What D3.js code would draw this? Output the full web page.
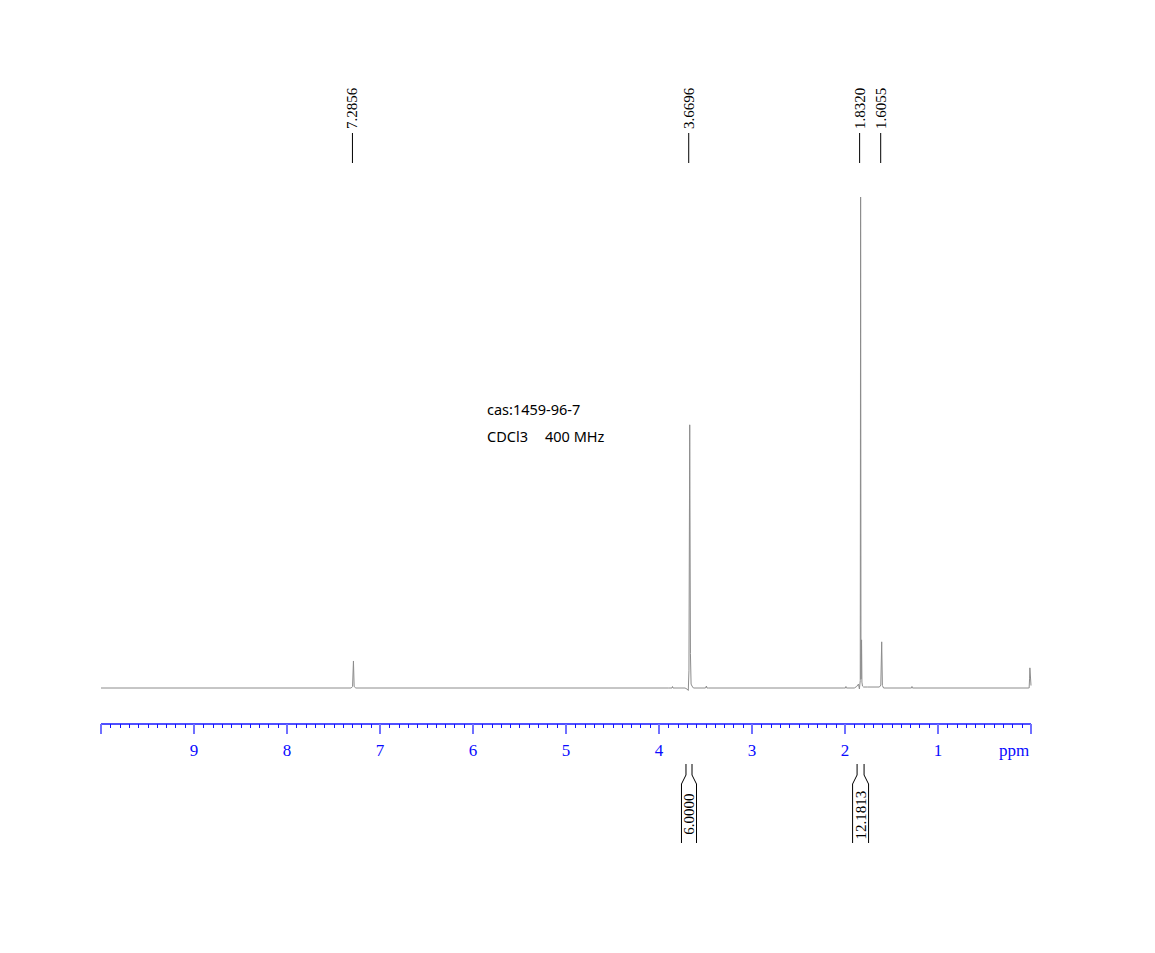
<!DOCTYPE html>
<html><head><meta charset="utf-8">
<script src="https://cdn.jsdelivr.net/npm/d3@7"></script>
<style>body{margin:0;background:#fff}svg{display:block}</style>
</head><body>
<svg id="c" width="1155" height="953"></svg>
<script>
// Peak labels (ppm)
const peakLabels = [7.2856, 3.6696, 1.8320, 1.6055];
// Integral regions [from ppm, to ppm, value]
const integralFrom = [3.71, 1.87];
const integralTo = [3.645, 1.795];
const integralValues = ["6.0000", "12.1813"];
// Axis ticks
const majorTicks = [9, 8, 7, 6, 5, 4, 3, 2, 1];
const axisDomain = [10, 0];
// Spectrum points: ppm, intensity (1.8320 peak = 100)
const specPpm = [10.0, 7.31, 7.295, 7.2856, 7.278, 7.26,
  3.90, 3.86, 3.855, 3.85, 3.72, 3.70, 3.685, 3.678, 3.6696, 3.662, 3.655, 3.645, 3.63, 3.50, 3.49, 3.485, 3.47,
  2.02, 1.995, 1.99, 1.985, 1.90, 1.875, 1.855, 1.845, 1.836, 1.8320, 1.828, 1.822, 1.818, 1.812, 1.80, 1.76, 1.63, 1.615, 1.6055, 1.598, 1.585,
  1.30, 1.285, 1.28, 1.275, 0.03, 0.02, 0.015, 0.012, 0.0];
const specInt = [0, 0, 0.3, 5.5, 0.3, 0,
  0, 0, 0.3, 0, 0, -0.2, -0.5, 3.5, 53.6, 7.0, 0.8, 0.4, 0, 0, 0.4, 0, 0,
  0, 0, 0.3, 0, 0, 0.3, 0.8, -0.2, 1.5, 100, 1.8, 9.8, 1.2, 0.4, 0.2, 0.2, 0.2, 0.6, 9.4, 0.5, 0,
  0, 0, 0.3, 0, 0, 0, 2.0, 4.1, 0.5];
const annotation = ["cas:1459-96-7", "CDCl3", "400 MHz"];

const svg = d3.select("#c");
const x = d3.scaleLinear().domain(axisDomain).range([101, 1031]);
const y = d3.scaleLinear().domain([0, 100]).range([688, 197]);
const serif = "'Liberation Serif','Times New Roman',serif";
const sans = "'Noto Sans','Open Sans',sans-serif";

// spectrum
const pts = specPpm.map((p, i) => [p, specInt[i]]);
svg.append("path").datum(pts)
  .attr("d", d3.line().x(d => x(d[0])).y(d => y(d[1])))
  .attr("fill", "none").attr("stroke", "#8c8c8c").attr("stroke-width", 1);

// axis
const axisY = 724;
const gA = svg.append("g");
gA.append("line").attr("x1", x(10)).attr("x2", x(0)).attr("y1", axisY).attr("y2", axisY)
  .attr("stroke", "#1515ff").attr("stroke-width", 1.5);
const minor = d3.range(1, 100).map(i => i / 10).filter(v => Math.abs(v - Math.round(v)) > 1e-6);
gA.selectAll(".mn").data(minor).enter().append("line")
  .attr("x1", d => Math.round(x(d)) + 0.5).attr("x2", d => Math.round(x(d)) + 0.5)
  .attr("y1", axisY).attr("y2", axisY + 4).attr("stroke", "#1515ff").attr("stroke-width", 1);
gA.selectAll(".mj").data(majorTicks.concat([10, 0])).enter().append("line")
  .attr("x1", d => x(d)).attr("x2", d => x(d))
  .attr("y1", axisY).attr("y2", axisY + 10).attr("stroke", "#7070ff").attr("stroke-width", 2);
gA.selectAll(".lb").data(majorTicks).enter().append("text")
  .attr("x", d => x(d)).attr("y", 756).attr("text-anchor", "middle")
  .attr("font-family", serif).attr("font-size", 17).attr("fill", "#0a0aff").text(d => d);
gA.append("text").attr("x", 1014).attr("y", 756).attr("text-anchor", "middle")
  .attr("font-family", serif).attr("font-size", 17).attr("fill", "#0a0aff").text("ppm");

// peak labels
peakLabels.forEach(p => {
  const px = x(p) - 1;
  svg.append("line").attr("x1", px).attr("x2", px).attr("y1", 133).attr("y2", 163)
    .attr("stroke", "#000").attr("stroke-width", 1);
  svg.append("text").attr("transform", `translate(${px + 5},129) rotate(-90)`)
    .attr("font-family", serif).attr("font-size", 15).attr("fill", "#000").text(p.toFixed(4));
});

// integrals
integralValues.forEach((v, i) => {
  const a = x(integralFrom[i]), b = x(integralTo[i]);
  const ca = a - 4.5, cb = b + 4.5;
  const path = d3.path();
  path.moveTo(a, 764); path.lineTo(a, 775); path.lineTo(ca, 784); path.lineTo(ca, 843);
  path.moveTo(b, 764); path.lineTo(b, 775); path.lineTo(cb, 784); path.lineTo(cb, 843);
  svg.append("path").attr("d", path.toString()).attr("fill", "none")
    .attr("stroke", "#000").attr("stroke-width", 1);
  svg.append("text").attr("transform", `translate(${(a + b) / 2 + 5},${i === 0 ? 814 : 815}) rotate(-90)`)
    .attr("text-anchor", "middle").attr("font-family", serif).attr("font-size", 15)
    .attr("fill", "#000").text(v);
});

// annotation
svg.append("text").attr("x", 487).attr("y", 415)
  .attr("font-family", sans).attr("font-size", 14.5).attr("fill", "#000").text(annotation[0]);
svg.append("text").attr("x", 487).attr("y", 442)
  .attr("font-family", sans).attr("font-size", 14.5).attr("fill", "#000").text(annotation[1]);
svg.append("text").attr("x", 545).attr("y", 442)
  .attr("font-family", sans).attr("font-size", 14.5).attr("fill", "#000").text(annotation[2]);
</script>
</body></html>
